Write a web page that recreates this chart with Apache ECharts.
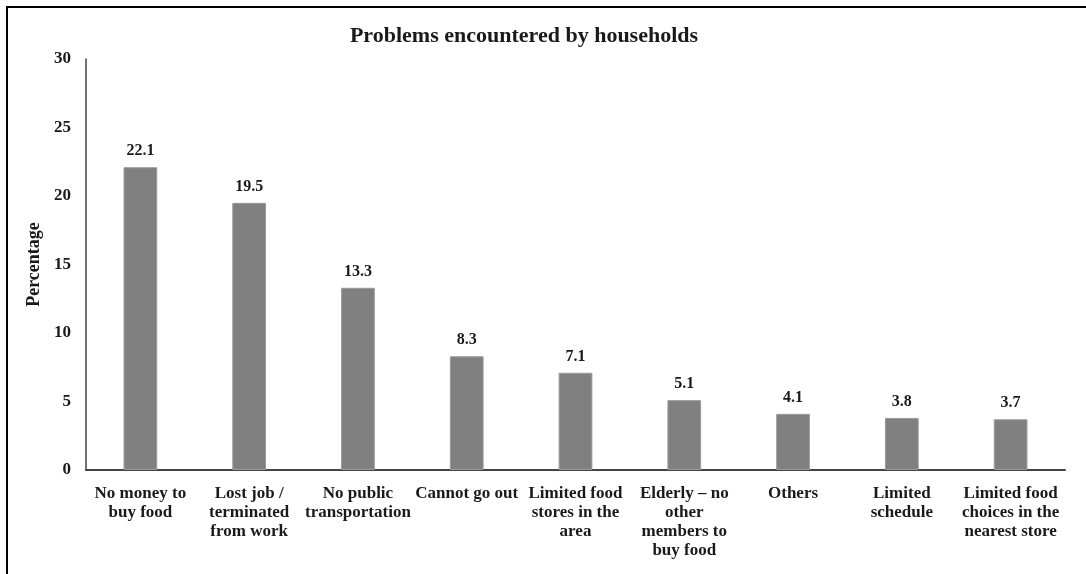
<!DOCTYPE html>
<html>
<head>
<meta charset="utf-8">
<script src="https://cdn.jsdelivr.net/npm/echarts@6/dist/echarts.min.js"></script>
<style>
  html, body { margin: 0; padding: 0; background: #fff; }
  #frame { position: absolute; left: 6px; top: 6px; width: 1080px; height: 568px;
           border-top: 2px solid #000; border-left: 2px solid #000; box-sizing: border-box; }
  #chart { position: absolute; left: 0; top: 0; width: 1086px; height: 574px; }
</style>
</head>
<body>
<div id="frame"></div>
<div id="chart"></div>
<script>
// Survey results: problems households reported (percentage of respondents)
const categories = [
  "No money to\nbuy food",
  "Lost job /\nterminated\nfrom work",
  "No public\ntransportation",
  "Cannot go out",
  "Limited food\nstores in the\narea",
  "Elderly – no\nother\nmembers to\nbuy food",
  "Others",
  "Limited\nschedule",
  "Limited food\nchoices in the\nnearest store"
];
const percentages = [22.1, 19.5, 13.3, 8.3, 7.1, 5.1, 4.1, 3.8, 3.7];
const yTicks = [0, 5, 10, 15, 20, 25, 30];

const serif = '"Liberation Serif", "DejaVu Serif", serif';
const textColor = '#1a1a1a';

const chart = echarts.init(document.getElementById('chart'), null, { renderer: 'canvas' });
chart.setOption({
  backgroundColor: 'transparent',
  animation: false,
  graphic: [{
    type: 'text',
    x: 524,
    y: 25,
    style: {
      text: 'Problems encountered by households',
      textAlign: 'center',
      fontFamily: serif, fontWeight: 'bold', fontSize: 22, fill: textColor
    }
  }],
  grid: { left: 86, right: 21, top: 59, bottom: 104, containLabel: false },
  xAxis: {
    type: 'category',
    data: categories,
    axisLine: { lineStyle: { color: '#444', width: 2 } },
    axisTick: { show: false },
    axisLabel: {
      interval: 0,
      margin: 14,
      fontFamily: serif, fontWeight: 'bold', fontSize: 17, lineHeight: 19, color: textColor
    }
  },
  yAxis: {
    type: 'value',
    min: yTicks[0],
    max: yTicks[yTicks.length - 1],
    interval: yTicks[1] - yTicks[0],
    name: 'Percentage',
    nameLocation: 'middle',
    nameGap: 34,
    nameRotate: 90,
    nameTextStyle: { fontFamily: serif, fontWeight: 'bold', fontSize: 18, color: textColor },
    axisLine: { show: true, lineStyle: { color: '#444', width: 1.5 } },
    axisTick: { show: false },
    splitLine: { show: false },
    axisLabel: { margin: 15, fontFamily: serif, fontWeight: 'bold', fontSize: 17, color: textColor }
  },
  series: [{
    type: 'bar',
    data: percentages,
    barWidth: '31%',
    itemStyle: { color: '#808080', borderColor: '#9a9a9a', borderWidth: 1 },
    label: {
      show: true,
      position: 'top',
      distance: 8,
      formatter: p => p.value.toFixed(1),
      fontFamily: serif, fontWeight: 'bold', fontSize: 16, color: textColor
    }
  }]
});
</script>
</body>
</html>
